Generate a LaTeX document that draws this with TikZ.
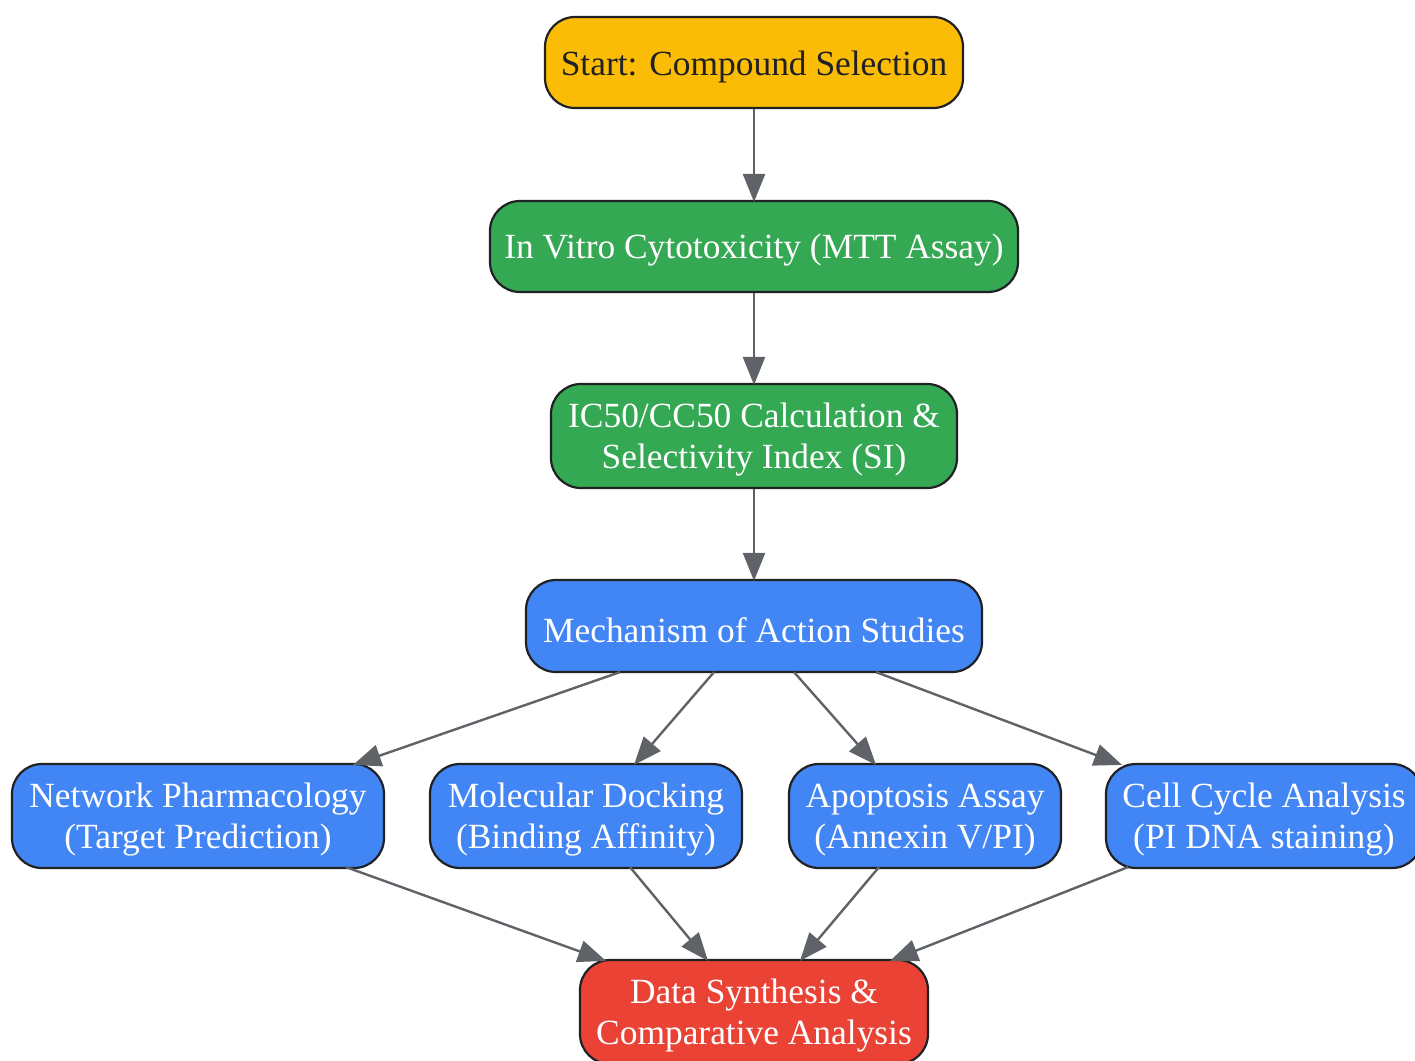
\documentclass[tikz,border=0pt]{standalone}
\usepackage{fontspec}
\setmainfont{Liberation Serif}
\usetikzlibrary{arrows.meta}
\definecolor{cyellow}{HTML}{FBBC05}
\definecolor{cgreen}{HTML}{34A853}
\definecolor{cblue}{HTML}{4285F4}
\definecolor{cred}{HTML}{EA4335}
\definecolor{cborder}{HTML}{202124}
\definecolor{cedge}{HTML}{5F6368}
\tikzset{
  box/.style={draw=cborder, line width=2.2pt, rounded corners=30pt, inner sep=0pt},
  txt/.style={align=center, inner sep=0pt, text=white, yshift=-4pt,
    font=\fontsize{35.4}{41}\selectfont},
  flow/.style={draw=cedge, line width=2.4pt, -{Triangle[length=28pt,width=22pt]}}
}
\begin{document}
\begin{tikzpicture}[x=1pt,y=-1pt]
\useasboundingbox (0,0) rectangle (1415,1060);
\node[box, fill=cyellow, minimum width=418pt, minimum height=91pt,
  label={[txt,text=cborder]center:{Start: Compound Selection}}] (start) at (754,62.5) {};
\node[box, fill=cgreen, minimum width=528pt, minimum height=91pt,
  label={[txt]center:{In Vitro Cytotoxicity (MTT Assay)}}] (vitro) at (754,246.5) {};
\node[box, fill=cgreen, minimum width=406pt, minimum height=104pt,
  label={[txt]center:{IC50/CC50 Calculation \&\\Selectivity Index (SI)}}] (ic50) at (754,436) {};
\node[box, fill=cblue, minimum width=456pt, minimum height=92pt,
  label={[txt]center:{Mechanism of Action Studies}}] (mech) at (754,626) {};
\node[box, fill=cblue, minimum width=372pt, minimum height=104pt,
  label={[txt]center:{Network Pharmacology\\(Target Prediction)}}] (net) at (198,816) {};
\node[box, fill=cblue, minimum width=312pt, minimum height=104pt,
  label={[txt]center:{Molecular Docking\\(Binding Affinity)}}] (dock) at (586,816) {};
\node[box, fill=cblue, minimum width=272pt, minimum height=104pt,
  label={[txt]center:{Apoptosis Assay\\(Annexin V/PI)}}] (apop) at (925,816) {};
\node[box, fill=cblue, minimum width=316pt, minimum height=104pt,
  label={[txt]center:{Cell Cycle Analysis\\(PI DNA staining)}}] (cell) at (1264,816) {};
\node[box, fill=cred, minimum width=348pt, minimum height=104pt,
  label={[txt]center:{Data Synthesis \&\\Comparative Analysis}}] (data) at (754,1012) {};

\draw[flow] (start.south) -- ([yshift=-2pt]vitro.north);
\draw[flow] (vitro.south) -- ([yshift=-2pt]ic50.north);
\draw[flow] (ic50.south) -- ([yshift=-2pt]mech.north);
\draw[flow] ([xshift=-134pt,yshift=1pt]mech.south) -- ([xshift=155pt,yshift=-2pt]net.north);
\draw[flow] ([xshift=-40pt,yshift=1pt]mech.south) -- ([xshift=48pt,yshift=-2pt]dock.north);
\draw[flow] ([xshift=40pt,yshift=1pt]mech.south) -- ([xshift=-49pt,yshift=-2pt]apop.north);
\draw[flow] ([xshift=122pt,yshift=1pt]mech.south) -- ([xshift=-142pt,yshift=-2pt]cell.north);
\draw[flow] ([xshift=148pt,yshift=2pt]net.south) -- ([xshift=-148pt,yshift=-2pt]data.north);
\draw[flow] ([xshift=44pt,yshift=2pt]dock.south) -- ([xshift=-46pt,yshift=-2pt]data.north);
\draw[flow] ([xshift=-46pt,yshift=2pt]apop.south) -- ([xshift=46pt,yshift=-2pt]data.north);
\draw[flow] ([xshift=-136pt,yshift=2pt]cell.south) -- ([xshift=136pt,yshift=-2pt]data.north);
\end{tikzpicture}
\end{document}
